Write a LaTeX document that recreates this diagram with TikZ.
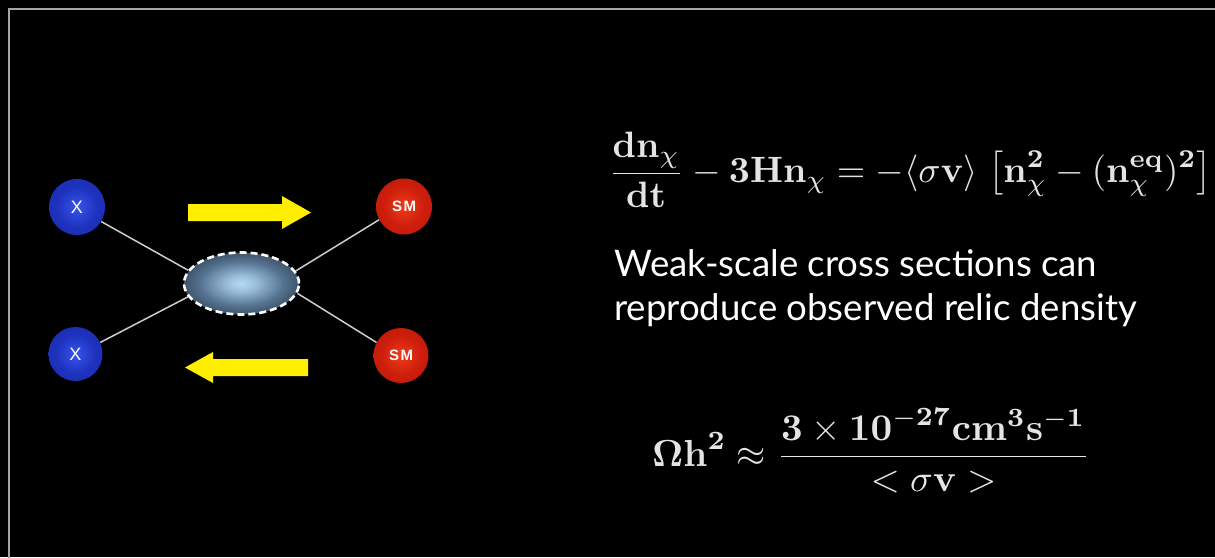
\documentclass[tikz,border=0pt]{standalone}
\usepackage{amsmath}
\usepackage[no-math]{fontspec}
\newfontfamily\gill{Lato}
\newfontfamily\lab{Liberation Sans}
\usetikzlibrary{shapes.geometric,backgrounds}
\definecolor{frameC}{RGB}{165,165,165}
\definecolor{lineC}{RGB}{205,205,205}
\definecolor{yel}{RGB}{255,238,0}
\definecolor{mathC}{RGB}{228,228,228}
\definecolor{bC}{RGB}{55,85,235}
\definecolor{bM}{RGB}{30,50,190}
\definecolor{bD}{RGB}{12,22,125}
\definecolor{rC}{RGB}{240,60,25}
\definecolor{rM}{RGB}{205,30,12}
\definecolor{rD}{RGB}{140,12,6}
\definecolor{eC}{RGB}{180,218,245}
\definecolor{eM}{RGB}{85,115,145}
\definecolor{eD}{RGB}{40,52,66}
\pgfdeclareradialshading{bluesph}{\pgfpoint{0bp}{0bp}}{color(0bp)=(bC); color(18bp)=(bM); color(38bp)=(bM!70!bD); color(50bp)=(bD)}
\pgfdeclareradialshading{redsph}{\pgfpoint{0bp}{0bp}}{color(0bp)=(rC); color(18bp)=(rM); color(38bp)=(rM!70!rD); color(50bp)=(rD)}
\pgfdeclareradialshading{blobsh}{\pgfpoint{0bp}{0bp}}{color(0bp)=(eC); color(6bp)=(eC!75!eM); color(18bp)=(eM); color(32bp)=(eD); color(50bp)=(eD!85!black)}
\tikzset{
  ballbase/.style={circle, inner sep=0pt, text=white, font=\lab\fontsize{18}{18}\selectfont},
  xball/.style={ballbase, shading=bluesph},
  smball/.style={ballbase, shading=redsph, font=\lab\bfseries\fontsize{15}{15}\selectfont},
  blob/.style={ellipse, shading=blobsh, draw=white, line width=2.6pt, dash pattern=on 7pt off 4pt, minimum width=115pt, minimum height=62pt, inner sep=0pt},
  conn/.style={draw=lineC, line width=1.5pt},
  arrowfill/.style={fill=yel},
  mathtxt/.style={text=mathC, inner sep=0pt, anchor=west},
  bodytxt/.style={text=white, inner sep=0pt, anchor=base west, font=\gill\fontsize{36.6}{42}\selectfont}
}
\begin{document}
\begin{tikzpicture}[x=1pt,y=-1pt]
\begin{scope}[on background layer]
\fill[black] (0,0) rectangle (1215,557);
\end{scope}
\useasboundingbox (0,0) rectangle (1215,557);
\draw[frameC, line width=2.2pt] (9,9) rectangle (1260,600);

\node[xball, minimum size=56pt] (x1) at (77,207) {X};
\node[xball, minimum size=54pt] (x2) at (75.5,354) {X};
\node[smball, minimum size=56pt] (sm1) at (404,206.5) {S\kern1.5pt M};
\node[smball, minimum size=55pt] (sm2) at (401,355.5) {S\kern1.5pt M};
\node[blob] (blob) at (241.5,283.5) {};

\begin{scope}[on background layer]
\draw[conn] (x1.-31) -- (blob.166);
\draw[conn] (x2.25) -- (blob.194);
\draw[conn] (sm1.208) -- (blob.13);
\draw[conn] (sm2.152) -- (blob.350);
\end{scope}

\fill[arrowfill] (188,204) -- (282,204) -- (282,196) -- (311,212.5) -- (282,229) -- (282,221) -- (188,221) -- cycle;
\fill[arrowfill] (308,359) -- (213,359) -- (213,352) -- (185,367.5) -- (213,383) -- (213,376) -- (308,376) -- cycle;

\node[mathtxt] (eq1) at (608,170) {\resizebox{604pt}{!}{$\displaystyle \frac{\mathbf{dn}_\chi}{\mathbf{dt}} - \mathbf{3Hn}_\chi = -\langle\sigma\mathbf{v}\rangle\;\bigl[\mathbf{n}_\chi^{\mathbf{2}} - (\mathbf{n}_\chi^{\mathbf{eq}})^{\mathbf{2}}\bigr]$}};

\node[bodytxt] (t1) at (614,276) {Weak-scale cross sections can};
\node[bodytxt] (t2) at (614,320) {reproduce observed relic density};

\node[mathtxt] (eq2) at (652,451) {\resizebox{438pt}{!}{$\displaystyle \mathbf{\Omega h}^{\mathbf{2}} \approx \frac{\mathbf{3}\times\mathbf{10}^{\mathbf{-27}}\mathbf{cm}^{\mathbf{3}}\mathbf{s}^{-\mathbf{1}}}{<\sigma\mathbf{v}>}$}};
\end{tikzpicture}
\end{document}
